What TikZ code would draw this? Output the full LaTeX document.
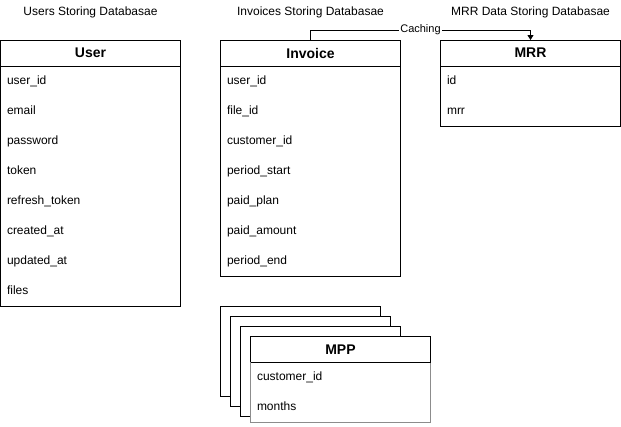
\documentclass[tikz,border=0pt]{standalone}
\usepackage{fontspec}
\setmainfont{Liberation Sans}
\usetikzlibrary{arrows.meta, positioning}

\begin{document}
\begin{tikzpicture}[
    x=1pt, y=-1pt, line width=1pt,
    title/.style={font=\fontsize{12}{14}\selectfont},
    tablehead/.style={draw, fill=white, anchor=north west, minimum width=180pt, minimum height=26pt, inner sep=0pt, outer sep=0pt, font=\fontsize{14}{16}\selectfont\bfseries},
    tablebody/.style={draw, fill=white, minimum width=180pt, inner sep=0pt, outer sep=0pt},
    field/.style={anchor=base west, inner sep=0pt, font=\fontsize{12}{14}\selectfont},
    sheet/.style={draw, fill=white},
    arrow/.style={-{Triangle[length=5pt, width=6pt]}}
]
\useasboundingbox (0,0) rectangle (621,426);

% titles
\node[title] (usertitle) at (90.5,12) {Users Storing Databasae};
\node[title] (invoicetitle) at (310.5,12) {Invoices Storing Databasae};
\node[title] (mrrtitle) at (530.5,12) {MRR Data Storing Databasae};

% User
\node[tablehead] (userhead) at (0.5,40) {User};
\node[tablebody, minimum height=240pt, below=0pt of userhead] (userbody) {};
\foreach \f [count=\i] in {user\_id, email, password, token, refresh\_token, created\_at, updated\_at, files}
    \node[field] (user-\i) at (6.5, 54+30*\i) {\f};

% Invoice
\node[tablehead] (invoicehead) at (220.5,40) {Invoice};
\node[tablebody, minimum height=210pt, below=0pt of invoicehead] (invoicebody) {};
\foreach \f [count=\i] in {user\_id, file\_id, customer\_id, period\_start, paid\_plan, paid\_amount, period\_end}
    \node[field] (invoice-\i) at (226.5, 54+30*\i) {\f};

% MRR
\node[tablehead] (mrrhead) at (440.5,40) {MRR};
\node[tablebody, minimum height=60pt, below=0pt of mrrhead] (mrrbody) {};
\foreach \f [count=\i] in {id, mrr}
    \node[field] (mrr-\i) at (446.5, 54+30*\i) {\f};

% MPP stack
\foreach \k in {0,1,2}
    \draw[sheet] (220.5+10*\k, 306.5+10*\k) rectangle ++(160,90);
\node[tablehead] (mpphead) at (250.5,336.5) {MPP};
\node[tablebody, draw=black!45, minimum height=60pt, below=0pt of mpphead] (mppbody) {};
\draw (mpphead.south west) -- (mpphead.south east);
\foreach \f [count=\i] in {customer\_id, months}
    \node[field] (mpp-\i) at (256.5, 350+30*\i) {\f};

\draw[arrow] (invoicehead.north) -- ++(0,-10) -| (mrrhead.north)
    node[pos=0.25, fill=white, inner sep=1pt, font=\fontsize{11}{13}\selectfont] (caching) {Caching};
\end{tikzpicture}
\end{document}
